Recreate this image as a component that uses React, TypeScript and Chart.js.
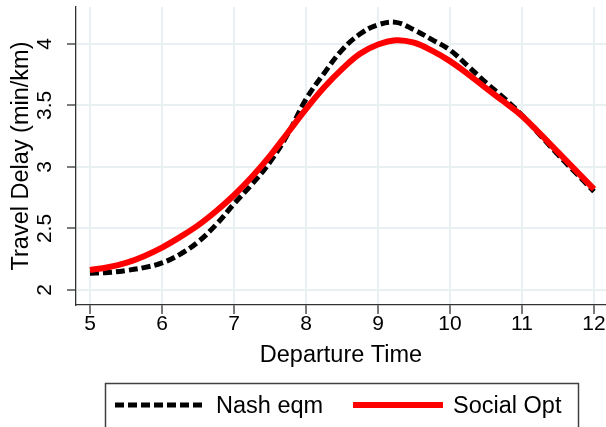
import React, { useEffect, useRef } from 'react';
import { Chart, registerables } from 'chart.js';

Chart.register(...registerables);

const departureTimes = [5, 5.25, 5.5, 5.75, 6, 6.25, 6.5, 6.75, 7, 7.25, 7.5, 7.75, 8, 8.25, 8.5, 8.75, 9, 9.25, 9.5, 9.75, 10, 10.25, 10.5, 10.75, 11, 11.25, 11.5, 11.75, 12];
const nashEqm = [2.136, 2.142, 2.158, 2.182, 2.22, 2.29, 2.39, 2.53, 2.70, 2.86, 3.04, 3.27, 3.55, 3.76, 3.95, 4.08, 4.155, 4.175, 4.115, 4.035, 3.95, 3.82, 3.685, 3.56, 3.42, 3.26, 3.10, 2.95, 2.80];
const socialOpt = [2.163, 2.185, 2.22, 2.275, 2.345, 2.43, 2.525, 2.64, 2.77, 2.92, 3.09, 3.28, 3.47, 3.645, 3.795, 3.92, 3.995, 4.03, 4.01, 3.945, 3.86, 3.755, 3.64, 3.53, 3.415, 3.27, 3.12, 2.97, 2.82];
const seriesLabels = ['Nash eqm', 'Social Opt'];
const xTickValues = [5, 6, 7, 8, 9, 10, 11, 12];
const xTickLabels = ['5', '6', '7', '8', '9', '10', '11', '12'];
const yTickValues = [2, 2.5, 3, 3.5, 4];
const yTickLabels = ['2', '2.5', '3', '3.5', '4'];
const xTitle = 'Departure Time';
const yTitle = 'Travel Delay (min/km)';

const FONT = '"Liberation Sans", Arial, sans-serif';

const boxLegend = {
  id: 'boxLegend',
  afterDraw(chart: any) {
    const ctx = chart.ctx as CanvasRenderingContext2D;
    ctx.save();
    ctx.fillStyle = '#ffffff';
    ctx.strokeStyle = '#404040';
    ctx.lineWidth = 1.5;
    ctx.beginPath();
    ctx.rect(105.5, 383.5, 473, 60);
    ctx.fill();
    ctx.stroke();
    const slots = [
      { x0: 115, x1: 206, tx: 216 },
      { x0: 353, x1: 443, tx: 453 },
    ];
    chart.data.datasets.forEach((ds: any, i: number) => {
      const s = slots[i];
      if (!s) return;
      ctx.save();
      ctx.strokeStyle = ds.borderColor;
      ctx.lineWidth = ds.borderWidth;
      ctx.setLineDash(ds.borderDash || []);
      ctx.lineCap = 'butt';
      ctx.beginPath();
      ctx.moveTo(s.x0, 405);
      ctx.lineTo(s.x1, 405);
      ctx.stroke();
      ctx.restore();
      ctx.fillStyle = '#000';
      ctx.font = `23.5px ${FONT}`;
      ctx.textBaseline = 'middle';
      ctx.textAlign = 'left';
      ctx.fillText(ds.label, s.tx, 407);
    });
    ctx.restore();
  },
};

export default function App() {
  const ref = useRef<HTMLCanvasElement | null>(null);

  useEffect(() => {
    if (!ref.current) return;
    const gridColor = '#e9f0f2';
    const axisColor = '#333333';
    const chart = new Chart(ref.current, {
      type: 'line',
      data: {
        datasets: [
          {
            label: seriesLabels[0],
            data: departureTimes.map((t, i) => ({ x: t, y: nashEqm[i] })),
            borderColor: '#000000',
            backgroundColor: '#000000',
            borderWidth: 5,
            borderDash: [9, 4],
            pointRadius: 0,
            tension: 0.4,
            order: 1,
          },
          {
            label: seriesLabels[1],
            data: departureTimes.map((t, i) => ({ x: t, y: socialOpt[i] })),
            borderColor: '#ff0000',
            backgroundColor: '#ff0000',
            borderWidth: 6,
            pointRadius: 0,
            tension: 0.4,
            order: 0,
          },
        ],
      },
      options: {
        responsive: false,
        animation: false,
        layout: { padding: { top: 7, left: 0, right: 0, bottom: 0 } },
        plugins: {
          legend: { display: false },
          tooltip: { enabled: false },
        },
        scales: {
          x: {
            type: 'linear',
            min: 4.806,
            max: 12.167,
            afterBuildTicks: (scale: any) => {
              scale.ticks = xTickValues.map((v) => ({ value: v }));
            },
            afterFit: (scale: any) => {
              scale.height = 122;
              scale.paddingLeft = 0;
              scale.paddingRight = 0;
            },
            ticks: {
              autoSkip: false,
              maxRotation: 0,
              minRotation: 0,
              padding: 0,
              color: '#000',
              font: { family: FONT, size: 21, lineHeight: 1 },
              callback: (v: any) => {
                const idx = xTickValues.indexOf(Number(v));
                return idx >= 0 ? xTickLabels[idx] : '';
              },
            },
            grid: {
              color: gridColor,
              lineWidth: 2,
              tickLength: 9,
              tickColor: axisColor,
              tickWidth: 1.3,
            },
            border: { color: axisColor, width: 1.3 },
            title: {
              display: true,
              text: xTitle,
              color: '#000',
              font: { family: FONT, size: 23.5 },
              padding: { top: 0, bottom: 57 },
            },
          },
          y: {
            type: 'linear',
            min: 1.878,
            max: 4.3,
            afterBuildTicks: (scale: any) => {
              scale.ticks = yTickValues.map((v) => ({ value: v }));
            },
            afterFit: (scale: any) => {
              scale.width = 76;
              scale.paddingTop = 0;
              scale.paddingBottom = 0;
            },
            ticks: {
              autoSkip: false,
              minRotation: 90,
              maxRotation: 90,
              crossAlign: 'center',
              padding: 7.5,
              color: '#000',
              font: { family: FONT, size: 21 },
              callback: (v: any) => {
                const idx = yTickValues.indexOf(Number(v));
                return idx >= 0 ? yTickLabels[idx] : '';
              },
            },
            grid: {
              color: gridColor,
              lineWidth: 2,
              tickLength: 9,
              tickColor: axisColor,
              tickWidth: 1.3,
            },
            border: { color: axisColor, width: 1.3 },
            title: {
              display: true,
              text: yTitle,
              color: '#000',
              font: { family: FONT, size: 23.5 },
              padding: { top: 7, bottom: 0 },
            },
          },
        },
      },
      plugins: [boxLegend],
    } as any);
    return () => chart.destroy();
  }, []);

  return (
    <div style={{ position: 'fixed', left: 0, top: 0, width: 606, height: 427, background: '#fff' }}>
      <canvas ref={ref} width={606} height={427} style={{ display: 'block' }} />
    </div>
  );
}
